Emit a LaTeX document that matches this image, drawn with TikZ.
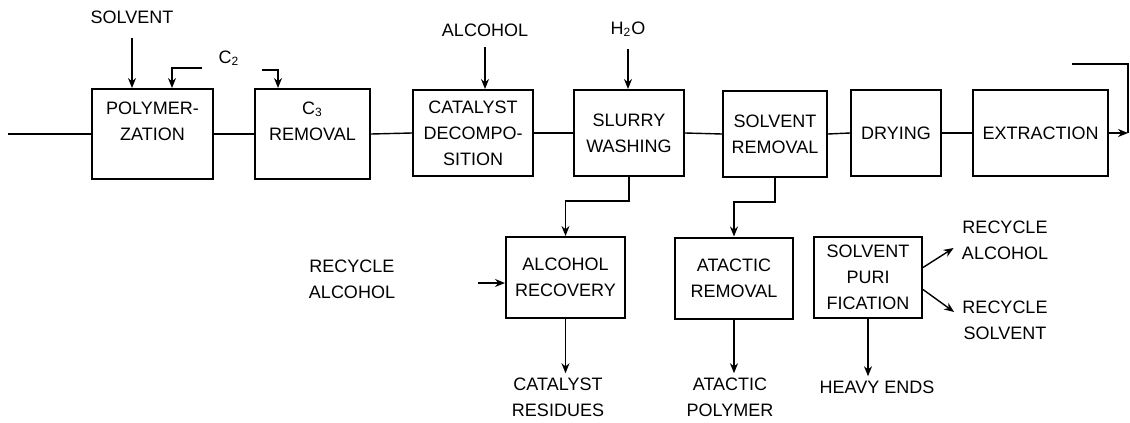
\documentclass[tikz,border=0pt]{standalone}
\usepackage{fontspec}
\setmainfont{Liberation Sans}
\usetikzlibrary{arrows.meta}

\begin{document}
\begin{tikzpicture}[
    x=0.5pt, y=-0.5pt,
    font=\fontsize{9}{13}\selectfont,
    arr/.style={-{Stealth[length=5pt,width=4pt]}, line width=0.7pt},
    link/.style={line width=0.7pt},
    unit/.style={rectangle, draw, line width=1pt, align=center,
                 minimum height=43pt, inner sep=2pt},
    lbl/.style={align=center, inner sep=2pt}
]
\useasboundingbox (0,0) rectangle (1130,423);

\node[unit, minimum width=60.5pt, minimum height=45pt] (poly) at (152.5,134) {POLYMER-\\ZATION\\ \mbox{}};
\node[unit, minimum width=57.5pt, minimum height=45pt] (c3rem) at (312.5,134) {C\textsubscript{3}\\REMOVAL\\ \mbox{}};
\node[unit, minimum width=60pt] (catdec) at (473,133) {CATALYST\\DECOMPO-\\SITION};
\node[unit, minimum width=55pt] (slurry) at (629,133) {SLURRY\\WASHING};
\node[unit, minimum width=52pt] (solrem) at (775,134) {SOLVENT\\REMOVAL};
\node[unit, minimum width=45pt] (drying) at (896,133) {DRYING};
\node[unit, minimum width=67.5pt] (extract) at (1040.5,133) {EXTRACTION};

\node[unit, minimum width=59.5pt, minimum height=40.5pt] (alcrec) at (565.5,277.5) {ALCOHOL\\RECOVERY};
\node[unit, minimum width=59pt, minimum height=40.5pt] (atarem) at (734,278) {ATACTIC\\REMOVAL};
\node[unit, minimum width=54pt, minimum height=40.5pt] (solpur) at (868,277.5) {SOLVENT\\PURI\\FICATION};

\node[lbl] (solvent) at (132,17) {SOLVENT};
\node[lbl] (ctwo) at (229,58) {C\textsubscript{2}};
\node[lbl] (alcohol) at (485,30) {ALCOHOL};
\node[lbl] (water) at (628,29) {H\textsubscript{2}O};
\node[lbl] (recalcl) at (352,279) {RECYCLE\\ALCOHOL};
\node[lbl] (catres) at (558,397) {CATALYST\\RESIDUES};
\node[lbl] (atapol) at (730,397) {ATACTIC\\POLYMER};
\node[lbl] (heavy) at (877,387) {HEAVY ENDS};
\node[lbl] (recalcr) at (1005,240) {RECYCLE\\ALCOHOL};
\node[lbl] (recsol) at (1005,320) {RECYCLE\\SOLVENT};

\coordinate (feed) at (8,134);
\coordinate (ctwoin) at (202,68);
\coordinate (cthreein) at (262,70);
\coordinate (recin) at (478,283);
\coordinate (exttop) at (1072,64);

\draw[link] (feed) -- (poly.west);
\draw[link] (poly.east) -- (c3rem.west);
\draw[link] (c3rem.east) -- (catdec.west);
\draw[link] (catdec.east) -- (slurry.west);
\draw[link] (slurry.east) -- (solrem.west);
\draw[link] (solrem.east) -- (drying.west);
\draw[link] (drying.east) -- (extract.west);
\draw[arr] (extract.east) -- ++(19,0) coordinate (extend);
\draw[link] (exttop) -| (extend);

\draw[arr] (solvent.south) ++(0,10) -- (solvent.south |- poly.north);
\draw[arr] (ctwoin) -| (172,0 |- poly.north);
\draw[arr] (cthreein) -| (278,0 |- c3rem.north);
\draw[arr] (alcohol.south) ++(0,6) -- (alcohol.south |- catdec.north);
\draw[arr] (water.south) ++(0,8) -- (water.south |- slurry.north);

\draw[arr] (slurry.south) -- ++(0,24) -| (alcrec.north);
\draw[arr] (solrem.south) -- ++(0,24) -| (atarem.north);
\draw[arr] (recin) -- (recin -| alcrec.west);

\draw[arr] (alcrec.south) -- (alcrec.south |- catres.north);
\draw[arr] (atarem.south) -- (atarem.south |- atapol.north);
\draw[arr] (solpur.south) -- (solpur.south |- heavy.north);
\draw[arr] ([yshift=5pt]solpur.east) -- ([xshift=-2pt,yshift=-4pt]recalcr.west);
\draw[arr] ([yshift=-6pt]solpur.east) -- ([xshift=-2pt,yshift=4pt]recsol.west);
\end{tikzpicture}
\end{document}
